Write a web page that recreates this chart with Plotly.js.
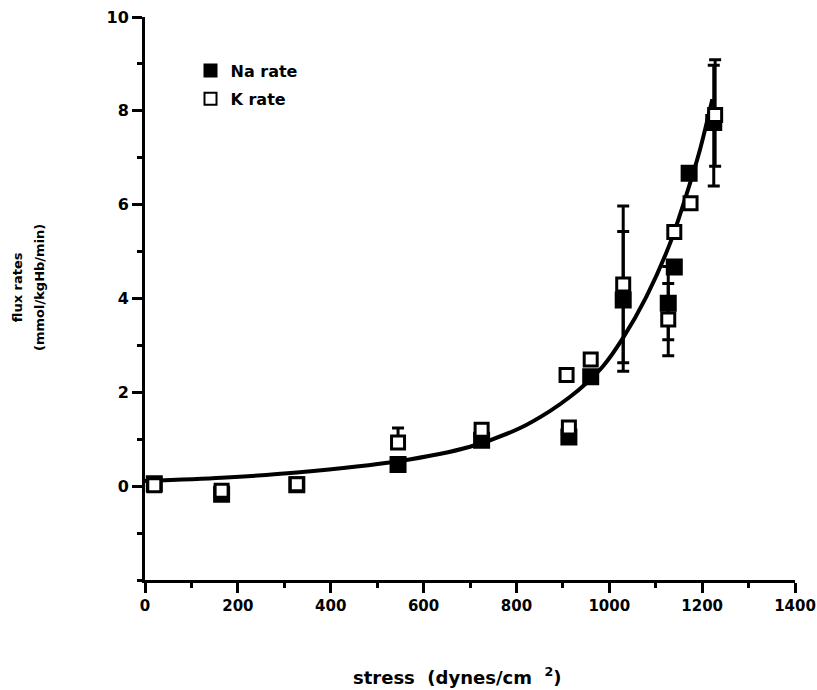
<!DOCTYPE html>
<html>
<head>
<meta charset="utf-8">
<script src="https://cdn.plot.ly/plotly-3.0.1.min.js"></script>
<style>html,body{margin:0;padding:0;background:#fff;}#chart{width:817px;height:690px;}</style>
</head>
<body>
<div id="chart"></div>
<script>
// Na rate (filled squares)
var naStress = [20, 165, 327, 545, 725, 913, 960, 1030, 1127, 1140, 1172, 1225];
var naRate   = [0.05, -0.17, 0.03, 0.46, 0.98, 1.05, 2.33, 3.97, 3.90, 4.67, 6.67, 7.75];
var naErrUp  = [0, 0, 0, 0, 0, 0, 0, 1.46, 0.78, 0, 0, 1.22];
var naErrDn  = [0, 0, 0, 0, 0, 0, 0, 1.52, 0.78, 0, 0, 1.35];

// K rate (open squares)
var kStress = [20, 165, 327, 545, 725, 908, 913, 960, 1030, 1127, 1140, 1175, 1228];
var kRate   = [0.02, -0.10, 0.04, 0.93, 1.20, 2.37, 1.25, 2.70, 4.30, 3.55, 5.42, 6.03, 7.91];
var kErrUp  = [0, 0, 0, 0.31, 0, 0, 0, 0, 1.67, 0.77, 0, 0, 1.18];
var kErrDn  = [0, 0, 0, 0, 0, 0, 0, 0, 1.67, 0.77, 0, 0, 1.09];

// fitted curve
var fitStress = [0, 165, 327, 545, 700, 808, 872, 915, 951, 986, 1029, 1080, 1131, 1167, 1195, 1222];
var fitRate   = [0.11, 0.18, 0.29, 0.53, 0.84, 1.24, 1.60, 1.90, 2.20, 2.55, 3.15, 4.04, 5.18, 6.24, 7.16, 8.25];

var xTicks = [0, 200, 400, 600, 800, 1000, 1200, 1400];
var yTicks = [0, 2, 4, 6, 8, 10];

var FONT = 'DejaVu Sans, Liberation Sans, Arial, sans-serif';

var traces = [
  {
    x: fitStress, y: fitRate, mode: 'lines', type: 'scatter',
    line: {color: '#000', width: 4, shape: 'spline', smoothing: 0.8},
    showlegend: false, hoverinfo: 'skip'
  },
  {
    x: naStress, y: naRate, mode: 'markers', type: 'scatter', name: 'Na rate',
    legend: 'legend',
    marker: {symbol: 'square', size: 15, color: '#000', line: {color: '#000', width: 2}},
    error_y: {type: 'data', symmetric: false, array: naErrUp, arrayminus: naErrDn,
              color: '#000', thickness: 3, width: 6}
  },
  {
    x: kStress, y: kRate, mode: 'markers', type: 'scatter', name: 'K rate',
    legend: 'legend2',
    marker: {symbol: 'square', size: 13, color: '#fff', line: {color: '#000', width: 3}},
    error_y: {type: 'data', symmetric: false, array: kErrUp, arrayminus: kErrDn,
              color: '#000', thickness: 3, width: 6}
  }
];

var legendBase = {
  xanchor: 'left', yanchor: 'top',
  bgcolor: 'rgba(0,0,0,0)', borderwidth: 0,
  font: {family: FONT, size: 16, color: '#000', weight: 'bold'},
  itemwidth: 30, itemsizing: 'constant'
};

var layout = {
  width: 817, height: 690,
  margin: {l: 145, r: 22, t: 17, b: 110},
  paper_bgcolor: '#fff', plot_bgcolor: '#fff',
  font: {family: FONT, color: '#000', size: 16, weight: 'bold'},
  showlegend: true,
  legend: Object.assign({x: 0.07, y: 0.935}, legendBase),
  legend2: Object.assign({x: 0.07, y: 0.885}, legendBase),
  xaxis: {
    range: [0, 1400], tickvals: xTicks, ticktext: xTicks.map(String),
    showline: true, linecolor: '#000', linewidth: 3,
    ticks: 'outside', ticklen: 10, tickwidth: 3, tickcolor: '#000',
    minor: {dtick: 100, ticks: 'outside', ticklen: 5, tickwidth: 3, tickcolor: '#000'},
    showgrid: false, zeroline: false, ticklabeloverflow: 'allow',
    tickfont: {family: FONT, size: 15, weight: 'bold'}
  },
  yaxis: {
    range: [-2, 10], tickvals: yTicks, ticktext: yTicks.map(String),
    showline: true, linecolor: '#000', linewidth: 3,
    ticks: 'outside', ticklen: 10, tickwidth: 3, tickcolor: '#000',
    minor: {dtick: 1, ticks: 'outside', ticklen: 5, tickwidth: 3, tickcolor: '#000'},
    showgrid: false, zeroline: false,
    tickfont: {family: FONT, size: 16, weight: 'bold'}
  },
  annotations: [
    {text: 'stress\u00a0\u00a0(dynes/cm\u00a0\u00a0<sup>2</sup>)', xref: 'paper', yref: 'paper',
     x: 0.48, y: -0.145, xanchor: 'center', yanchor: 'top', showarrow: false,
     font: {family: FONT, size: 18, weight: 'bold'}},
    {text: 'flux rates', xref: 'paper', yref: 'paper', x: -0.197, y: 0.52,
     xanchor: 'center', yanchor: 'middle', textangle: -90, showarrow: false,
     font: {family: FONT, size: 13, weight: 'bold'}},
    {text: '(mmol/kgHb/min)', xref: 'paper', yref: 'paper', x: -0.162, y: 0.52,
     xanchor: 'center', yanchor: 'middle', textangle: -90, showarrow: false,
     font: {family: FONT, size: 13, weight: 'bold'}}
  ]
};

Plotly.newPlot('chart', traces, layout, {displayModeBar: false, staticPlot: true});
</script>
</body>
</html>
